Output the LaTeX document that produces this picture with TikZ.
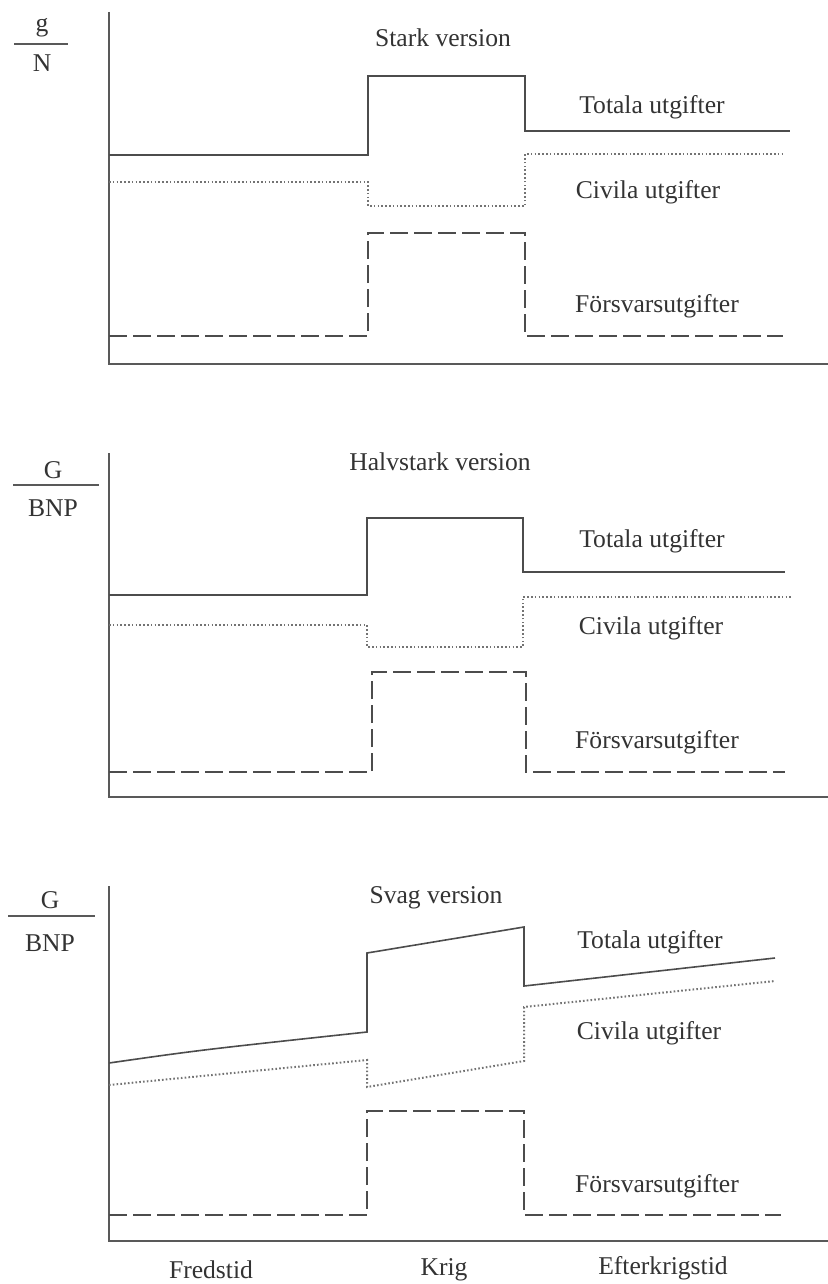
\documentclass[tikz,border=0pt]{standalone}
\usepackage{fontspec}
\setmainfont{Liberation Serif}
\usetikzlibrary{positioning}
\tikzset{
  axis/.style={draw=black!65, line width=1.1pt},
  tot/.style={draw=black!70, line width=0.8pt},
  civ/.style={draw=black!55, line width=1pt, dash pattern=on 0.8pt off 1.1pt},
  fors/.style={draw=black!70, line width=0.75pt, dash pattern=on 9pt off 3pt},
  lbl/.style={font=\fontsize{12.8}{15}\selectfont, text=black!80, inner sep=0pt},
  frac/.style={draw=black!65, line width=0.8pt}
}

\begin{document}
\begin{tikzpicture}[x=0.5pt, y=-0.5pt]
\useasboundingbox (0,0) rectangle (828,1284);

% Stark version
\node[lbl] (g1) at (42,28) {g};
\node[lbl] (n1) at (42,63) {N};
\draw[frac] (14,44) -- (68,44);
\node[lbl] (t1) at (443,38) {Stark version};
\draw[axis] (109,12) -- (109,364) -- (828,364);
\draw[tot] (109,155) -- (368,155) -- (368,76) -- (525,76) -- (525,131) -- (790,131);
\draw[civ] (109,182) -- (368,182) -- (368,206) -- (525,206) -- (525,154) -- (784,154);
\draw[fors] (109,336) -- (368,336) -- (368,233) -- (525,233) -- (525,336) -- (783,336);
\node[lbl] (tot1) at (652,107) {Totala utgifter};
\node[lbl] (civ1) at (648,192) {Civila utgifter};
\node[lbl] (fors1) at (657,306) {Försvarsutgifter};

% Halvstark version
\node[lbl] (g2) at (53,470) {G};
\node[lbl] (n2) at (53,508) {BNP};
\draw[frac] (13,485) -- (99,485);
\node[lbl] (t2) at (440,462) {Halvstark version};
\draw[axis] (109,453) -- (109,797) -- (828,797);
\draw[tot] (109,595) -- (367,595) -- (367,518) -- (523,518) -- (523,572) -- (785,572);
\draw[civ] (109,625) -- (367,625) -- (367,647) -- (523,647) -- (523,597) -- (792,597);
\draw[fors] (109,772) -- (372,772) -- (372,672) -- (526,672) -- (526,772) -- (785,772);
\node[lbl] (tot2) at (652,541) {Totala utgifter};
\node[lbl] (civ2) at (651,628) {Civila utgifter};
\node[lbl] (fors2) at (657,742) {Försvarsutgifter};

% Svag version
\node[lbl] (g3) at (50,900) {G};
\node[lbl] (n3) at (50,943) {BNP};
\draw[frac] (8,916) -- (95,916);
\node[lbl] (t3) at (436,898) {Svag version};
\draw[axis] (109,886) -- (109,1241) -- (828,1241);
\draw[tot] (109,1063) .. controls (200,1050) .. (367,1032) -- (367,953) -- (524,927) -- (524,986) -- (775,958);
\draw[civ] (109,1085) -- (367,1060) -- (367,1087) -- (524,1061) -- (524,1007) -- (775,981);
\draw[fors] (109,1215) -- (367,1215) -- (367,1111) -- (524,1111) -- (524,1215) -- (781,1215);
\node[lbl] (tot3) at (650,942) {Totala utgifter};
\node[lbl] (civ3) at (649,1033) {Civila utgifter};
\node[lbl] (fors3) at (657,1186) {Försvarsutgifter};

\node[lbl] (p1) at (211,1270) {Fredstid};
\node[lbl] (p2) at (444,1270) {Krig};
\node[lbl] (p3) at (663,1268) {Efterkrigstid};
\end{tikzpicture}
\end{document}
